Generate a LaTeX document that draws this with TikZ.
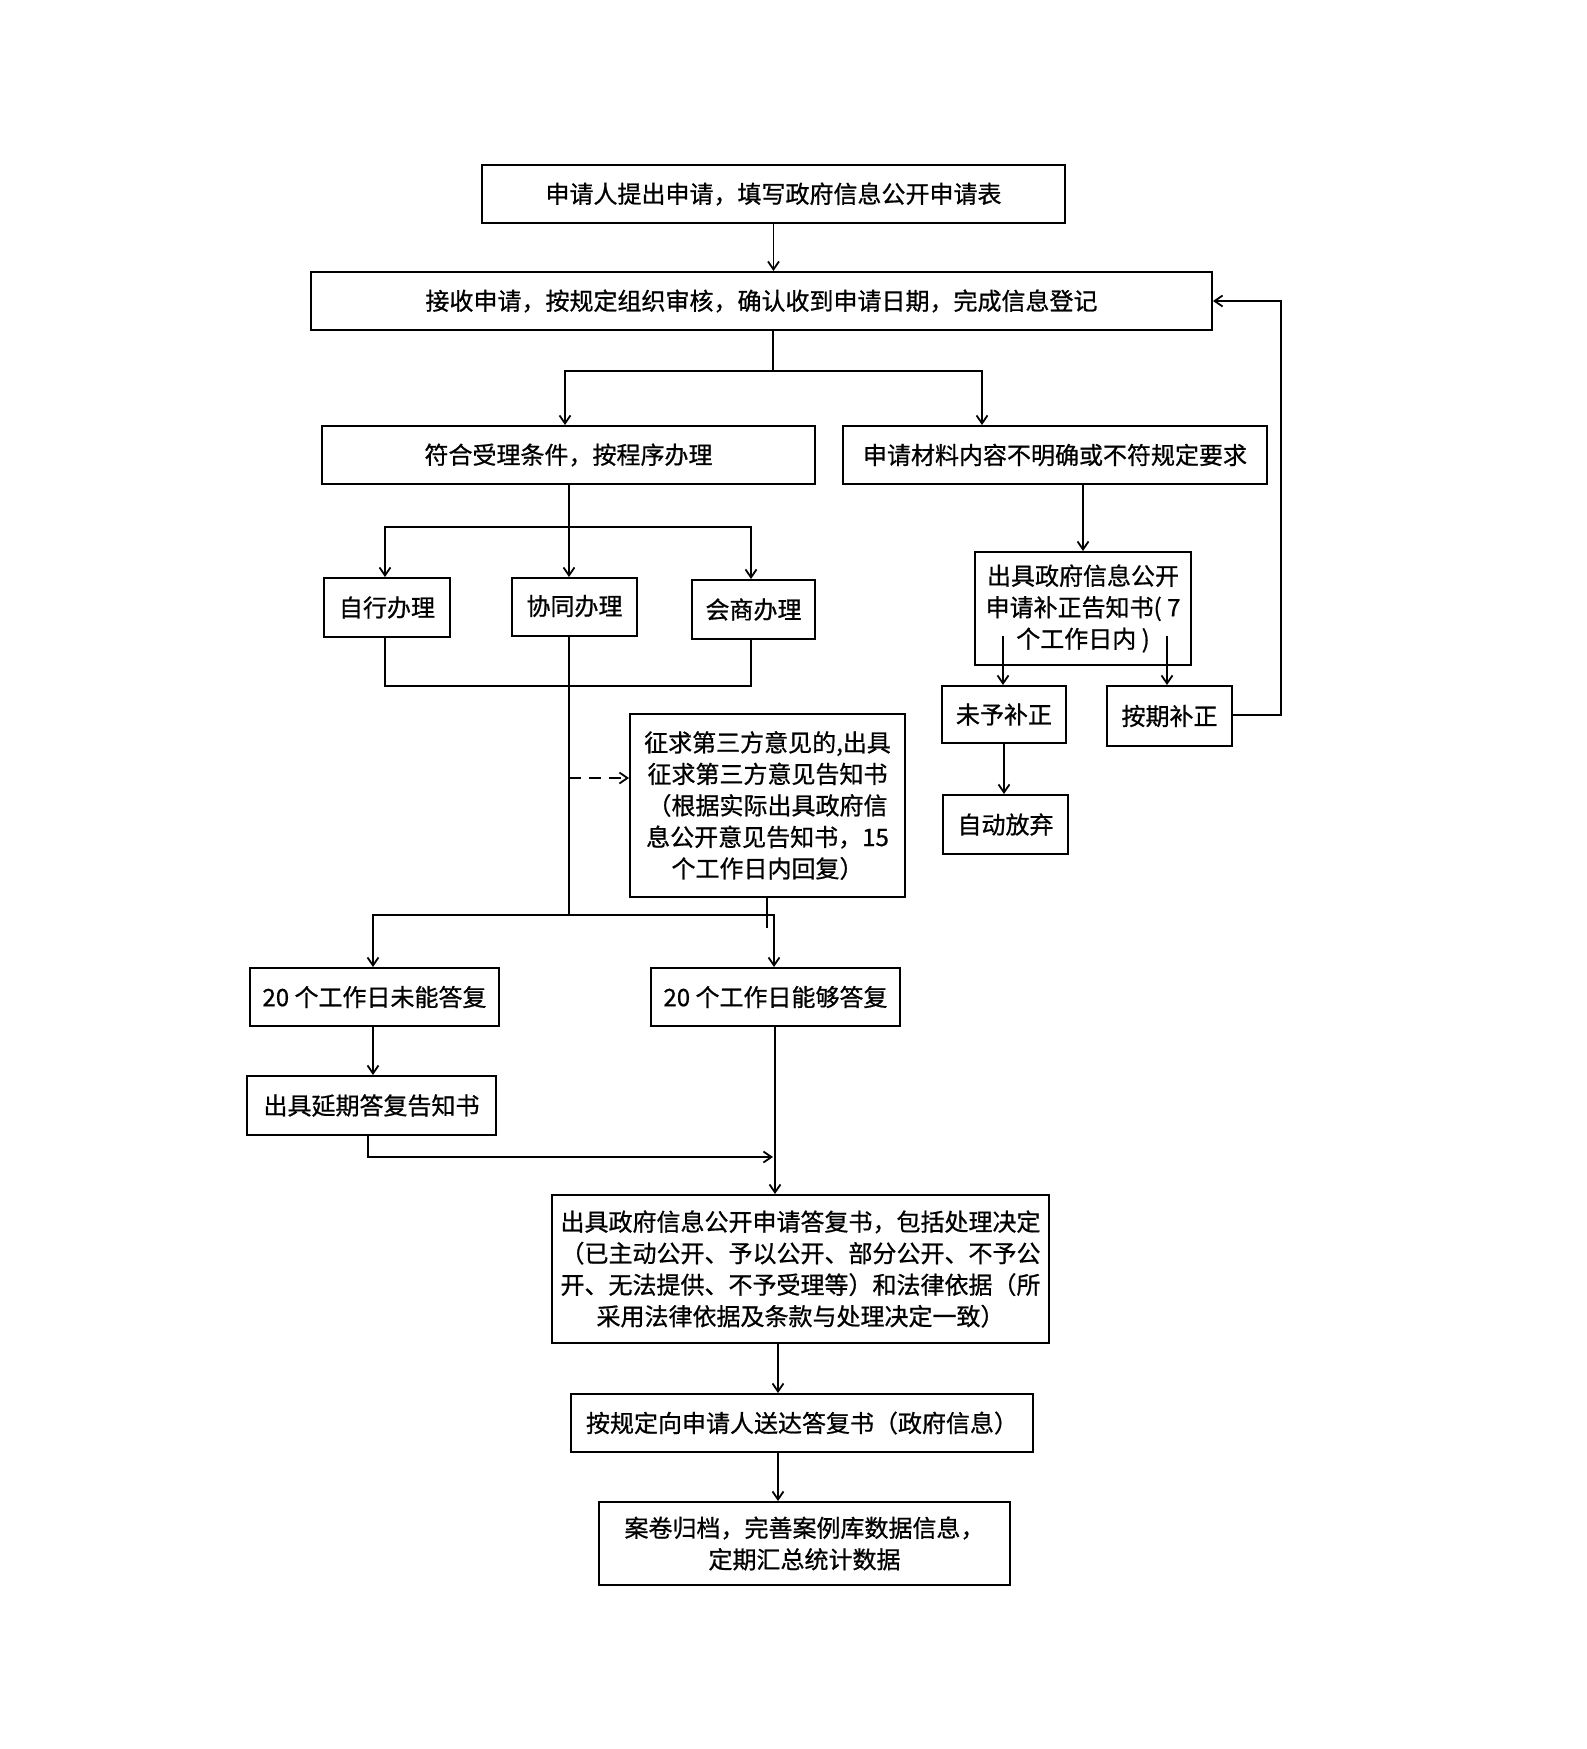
\documentclass[tikz,border=0pt]{standalone}
\usepackage{fontspec}
\setmainfont[FakeBold=0.8,AutoFakeBold=0.8]{Noto Sans CJK SC}
\usetikzlibrary{arrows.meta,calc}
\begin{document}
\begin{tikzpicture}[x=1pt,y=-1pt,
 box/.style={draw,line width=2pt,inner sep=0pt,align=center,font=\fontsize{24}{31.5}\selectfont},
 conn/.style={line width=1.8pt},
 arr/.style={conn,-{Straight Barb[length=8pt,width=11pt]}},
]
\useasboundingbox (0,0) rectangle (1587,1749);
\node[box,minimum width=583pt,minimum height=58pt] (n1) at (773.5,194) {申请人提出申请，填写政府信息公开申请表};
\node[box,minimum width=901pt,minimum height=58pt] (n2) at (761.5,301) {接收申请，按规定组织审核，确认收到申请日期，完成信息登记};
\node[box,minimum width=493pt,minimum height=58pt] (n3) at (568.5,455) {符合受理条件，按程序办理};
\node[box,minimum width=424pt,minimum height=58pt] (n4) at (1055,455) {申请材料内容不明确或不符规定要求};
\node[box,minimum width=126pt,minimum height=59pt] (n5) at (387,607.5) {自行办理};
\node[box,minimum width=125pt,minimum height=58pt,text depth=4pt] (n6) at (574.5,607) {协同办理};
\node[box,minimum width=123pt,minimum height=59pt] (n7) at (753.5,609.5) {会商办理};
\node[box,minimum width=275pt,minimum height=183pt] (n8) at (767.5,805.5) {征求第三方意见的,出具\\征求第三方意见告知书\\（根据实际出具政府信\\息公开意见告知书，15\\个工作日内回复）};
\node[box,minimum width=249pt,minimum height=58pt] (n9) at (374.5,997) {20 个工作日未能答复};
\node[box,minimum width=249pt,minimum height=58pt] (n10) at (775.5,997) {20 个工作日能够答复};
\node[box,minimum width=249pt,minimum height=59pt] (n11) at (371.5,1105.5) {出具延期答复告知书};
\node[box,minimum width=497pt,minimum height=148pt] (n12) at (800.5,1269) {出具政府信息公开申请答复书，包括处理决定\\（已主动公开、予以公开、部分公开、不予公\\开、无法提供、不予受理等）和法律依据（所\\采用法律依据及条款与处理决定一致）};
\node[box,minimum width=462pt,minimum height=58pt] (n13) at (802,1423) {按规定向申请人送达答复书（政府信息）};
\node[box,minimum width=411pt,minimum height=83pt] (n14) at (804.5,1543.5) {案卷归档，完善案例库数据信息，\\定期汇总统计数据};
\node[box,minimum width=216pt,minimum height=113pt] (n15) at (1083,608.5) {出具政府信息公开\\申请补正告知书( 7\\个工作日内 )};
\node[box,minimum width=124pt,minimum height=57pt] (n16) at (1004,714.5) {未予补正};
\node[box,minimum width=125pt,minimum height=60pt] (n17) at (1169.5,716) {按期补正};
\node[box,minimum width=125pt,minimum height=59pt] (n18) at (1005.5,824.5) {自动放弃};
% connectors
\draw[arr] (n1.south) -- (n1.south |- n2.north);
\coordinate (a1) at (773,371);
\coordinate (a1L) at (565,371);
\coordinate (a1R) at (982,371);
\draw[conn] (n2.south -| a1) -- (a1);
\draw[arr] (a1) -- (a1L) -- (a1L |- n3.north);
\draw[arr] (a1) -- (a1R) -- (a1R |- n4.north);
\coordinate (b1) at (569,527);
\coordinate (b1L) at (385,527);
\coordinate (b1R) at (751,527);
\draw[conn] (n3.south -| b1) -- (b1);
\draw[arr] (b1) -- (b1L) -- (b1L |- n5.north);
\draw[arr] (b1) -- (b1R) -- (b1R |- n7.north);
\draw[arr] (b1) -- (b1 |- n6.north);
\coordinate (c1) at (385,686);
\coordinate (c1R) at (751,686);
\draw[conn] (n5.south -| c1) -- (c1) -- (c1R) -- (n7.south -| c1R);
\coordinate (d1) at (569,915);
\coordinate (d1L) at (373,915);
\coordinate (d1R) at (774,915);
\draw[conn] (n6.south -| d1) -- (d1);
\draw[arr] (d1) -- (d1L) -- (d1L |- n9.north);
\draw[arr] (d1) -- (d1R) -- (d1R |- n10.north);
\coordinate (e1) at (569,778);
\draw[arr,dash pattern=on 12pt off 8pt] (e1) -- (e1 -| n8.west);
\coordinate (f1) at (767,928);
\draw[conn,line width=1.2pt] (n8.south -| f1) -- (f1);
\draw[arr] (n9.south -| d1L) -- (n11.north -| d1L);
\coordinate (g1) at (368,1157);
\coordinate (g1R) at (773,1157);
\draw[arr] (n11.south -| g1) -- (g1) -- (g1R);
\coordinate (h1) at (775,0);
\draw[arr] (n10.south -| h1) -- (n12.north -| h1);
\coordinate (i1) at (778,0);
\draw[arr] (n12.south -| i1) -- (n13.north -| i1);
\draw[arr] (n13.south -| i1) -- (n14.north -| i1);
% right branch
\draw[arr] (n4.south -| n15.north) -- (n15.north);
\coordinate (j1) at (1003,636);
\coordinate (j2) at (1167,636);
\draw[arr] (j1) -- (j1 |- n16.north);
\draw[arr] (j2) -- (j2 |- n17.north);
\draw[arr] (n16.south) -- (n16.south |- n18.north);
\coordinate (k1) at (1281,715);
\draw[arr] (n17.east |- k1) -- (k1) -- (k1 |- n2.east) -- (n2.east);
\end{tikzpicture}
\end{document}
